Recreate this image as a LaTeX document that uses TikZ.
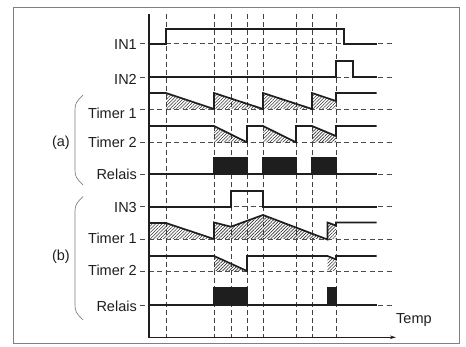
\documentclass[tikz,border=0pt]{standalone}
\usepackage{fontspec}
\setmainfont{Liberation Sans}
\usetikzlibrary{patterns.meta,arrows.meta}
\definecolor{ink}{HTML}{1E1E1E}
\definecolor{frame}{HTML}{808080}
\tikzset{
  sig/.style={line width=1.7pt, ink, line join=miter},
  baseln/.style={line width=0.8pt, ink!80, dash pattern=on 5pt off 3.5pt},
  vdash/.style={line width=0.8pt, ink!85, dash pattern=on 5pt off 3pt},
  hatch/.style={pattern={Lines[angle=45, distance=2.3pt, line width=0.6pt]}, pattern color=ink!90},
  blk/.style={fill=ink, draw=ink, line width=1.2pt},
  lbl/.style={font=\fontsize{14.5}{16}\selectfont, text=ink, inner sep=0pt, anchor=base east},
  brace/.style={line width=0.7pt, frame},
}
\begin{document}
\begin{tikzpicture}[x=1pt,y=-1pt]
\useasboundingbox (0,0) rectangle (466,347);
\draw[frame, line width=0.9pt] (13,7) rectangle (459,343);
% vertical dashed guides
\foreach \x in {166,214,231,247,263,296,312,336}
  \draw[vdash] (\x,14) -- (\x,337);
% baselines
\foreach \y in {43.7,77,109,142.3,174.3,206.7,239,271,305}
  \draw[baseln] (140,\y) -- (393,\y);
% hatched areas
\fill[hatch] (166,93) -- (214,109) -- (166,109) -- cycle;
\fill[hatch] (214,93) -- (263,109) -- (214,109) -- cycle;
\fill[hatch] (263,93) -- (312,109) -- (263,109) -- cycle;
\fill[hatch] (312,93) -- (336,101) -- (336,109) -- (312,109) -- cycle;
\fill[hatch] (214,126) -- (247,142.3) -- (214,142.3) -- cycle;
\fill[hatch] (263,126) -- (296,142.3) -- (263,142.3) -- cycle;
\fill[hatch] (312,126) -- (336,136) -- (336,142.3) -- (312,142.3) -- cycle;
\fill[hatch] (149,223) -- (166,223) -- (214,239) -- (149,239) -- cycle;
\fill[hatch] (214,222.5) -- (231,226.7) -- (263,215) -- (327.5,239) -- (214,239) -- cycle;
\fill[hatch] (327.5,222.5) -- (336,225.5) -- (336,239) -- (327.5,239) -- cycle;
\fill[hatch] (214,256) -- (247,271) -- (214,271) -- cycle;
\fill[hatch] (327.5,256) -- (336,259.5) -- (336,271) -- (327.5,271) -- cycle;
% relais blocks
\filldraw[blk] (214,157.7) rectangle (247,174.3);
\filldraw[blk] (263,157.7) rectangle (296,174.3);
\filldraw[blk] (312,157.7) rectangle (336,174.3);
\filldraw[blk] (214,287.7) rectangle (247,305);
\filldraw[blk] (327.5,287.7) rectangle (336,305);
% signals
\draw[sig] (149,43.7) -- (166,43.7) -- (166,29) -- (344.3,29) -- (344.3,43.7) -- (376.7,43.7);
\draw[sig] (149,77) -- (336,77) -- (336,61) -- (352.7,61) -- (352.7,77) -- (376.7,77);
\draw[sig] (149,93) -- (166,93) -- (214,109) -- (214,93) -- (263,109) -- (263,93) -- (312,109) -- (312,93) -- (336,101) -- (336,93) -- (376.7,93);
\draw[sig] (149,126) -- (214,126) -- (247,142.3) -- (247,126) -- (263,126) -- (296,142.3) -- (296,126) -- (312,126) -- (336,136) -- (336,126) -- (376.7,126);
\draw[sig] (149,174.3) -- (376.7,174.3);
\draw[sig] (149,206.7) -- (231,206.7) -- (231,190.7) -- (263,190.7) -- (263,206.7) -- (376.7,206.7);
\draw[sig] (149,223) -- (166,223) -- (214,239) -- (214,222.5) -- (231,226.7) -- (263,215) -- (327.5,239.5) -- (327.5,222.5) -- (336,225.5) -- (336,222.5) -- (376.7,222.5);
\draw[sig] (149,256) -- (214,256) -- (247,271) -- (247,256) -- (327.5,256) -- (336,259.5) -- (336,256) -- (376.7,256);
\draw[sig] (149,305) -- (376.7,305);
% axes
\draw[line width=1.4pt, ink] (149,14) -- (149,337.3);
\draw[line width=1.2pt, ink, -{Stealth[length=6pt,width=3.5pt]}] (148.3,337.3) -- (396,337.3);
\node[lbl, anchor=base west] (temp) at (396,323.5) {Temp};
% labels
\node[lbl] (in1) at (137,50) {IN1};
\node[lbl] (in2) at (137,85) {IN2};
\node[lbl] (t1a) at (137,119) {Timer 1};
\node[lbl] (t2a) at (137,148) {Timer 2};
\node[lbl] (rla) at (137,180) {Relais};
\node[lbl] (in3) at (137,213) {IN3};
\node[lbl] (t1b) at (137,244) {Timer 1};
\node[lbl] (t2b) at (137,275.5) {Timer 2};
\node[lbl] (rlb) at (137,311.5) {Relais};
\node[lbl] (ga) at (70,147) {(a)};
\node[lbl] (gb) at (70,261) {(b)};
% braces
\draw[brace] (83,95) .. controls (76,102) and (75,104) .. (75,110) -- (75,170) .. controls (75,176) and (76,178) .. (83,185);
\draw[brace] (83,196.5) .. controls (76,203.5) and (75,205.5) .. (75,211.5) -- (75,305) .. controls (75,311) and (76,313) .. (83,320);
\end{tikzpicture}
\end{document}
